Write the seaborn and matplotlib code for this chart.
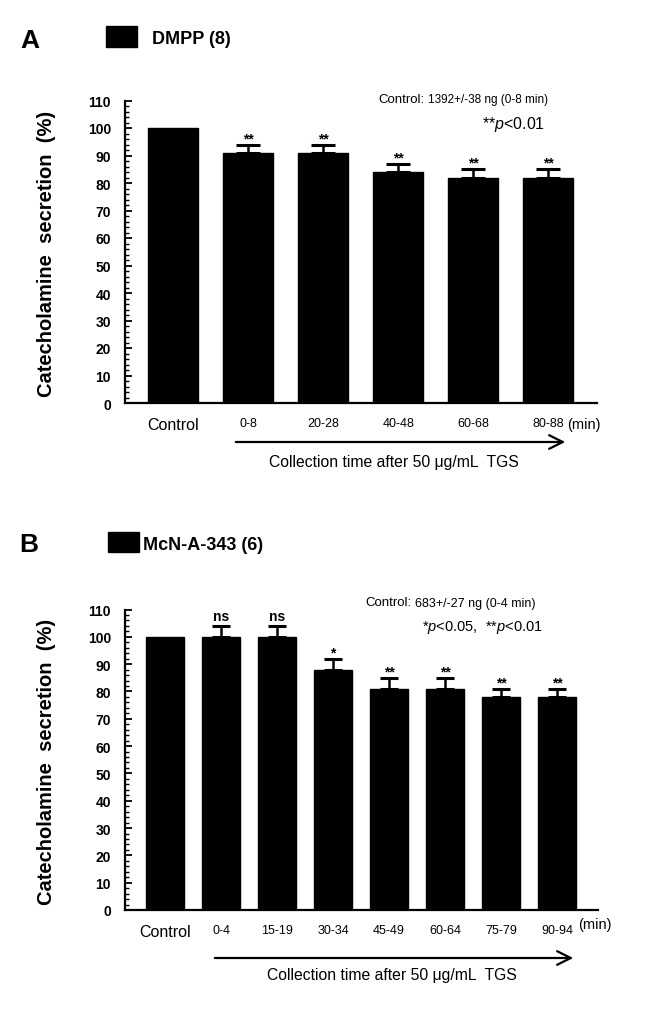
import matplotlib
matplotlib.use("Agg")
import matplotlib.pyplot as plt
from matplotlib.ticker import MultipleLocator
import seaborn as sns
import numpy as np
import pandas as pd

# ---- data ----
cats_A = ["Control", "0-8", "20-28", "40-48", "60-68", "80-88"]
vals_A = [100, 91, 91, 84, 82, 82]
err_A = [0, 3, 3, 3, 3, 3]
sig_A = ["", "**", "**", "**", "**", "**"]

cats_B = ["Control", "0-4", "15-19", "30-34", "45-49", "60-64", "75-79", "90-94"]
vals_B = [100, 100, 100, 88, 81, 81, 78, 78]
err_B = [0, 4, 4, 4, 4, 4, 3, 3]
sig_B = ["", "ns", "ns", "*", "**", "**", "**", "**"]

yticks = [0, 10, 20, 30, 40, 50, 60, 70, 80, 90, 100, 110]

sns.set_theme(style="ticks")
plt.rcParams["font.family"] = ["Liberation Sans", "DejaVu Sans"]
plt.rcParams["mathtext.fontset"] = "custom"
plt.rcParams["mathtext.rm"] = "Liberation Sans"
plt.rcParams["mathtext.it"] = "Liberation Sans:italic"
for k in ("text.color", "axes.labelcolor", "xtick.color", "ytick.color", "axes.edgecolor"):
    plt.rcParams[k] = "black"

W, H = 658, 1012
fig = plt.figure(figsize=(W / 100, H / 100), dpi=100)


def fx(x):
    return x / W


def fy(y):
    return 1 - y / H


def panel(rect, cats, vals, errs, sigs, width, capsize):
    ax = fig.add_axes(rect)
    df = pd.DataFrame({"cat": cats, "val": vals})
    sns.barplot(data=df, x="cat", y="val", order=cats, color="black",
                saturation=1, width=width, ax=ax, edgecolor="black")
    xs = np.arange(len(cats))
    e = np.array(errs, dtype=float)
    m = e > 0
    ax.errorbar(xs[m], np.array(vals)[m], yerr=[np.zeros(m.sum()), e[m]],
                fmt="none", ecolor="black", elinewidth=1.8, capsize=capsize,
                capthick=2.2)
    for i, (v, er, s) in enumerate(zip(vals, errs, sigs)):
        if s:
            if "*" in s:
                ax.text(i, v + er + 2.3, s, ha="center", va="center",
                        fontsize=10, fontweight="bold")
            else:
                ax.text(i, v + er + 0.9, s, ha="center", va="bottom",
                        fontsize=10, fontweight="bold")
    ax.set_ylim(0, 110)
    ax.set_yticks(yticks)
    ax.yaxis.set_minor_locator(MultipleLocator(2))
    ax.tick_params(axis="y", which="major", direction="in", length=5, width=1.3,
                   pad=10, labelsize=10)
    ax.tick_params(axis="y", which="minor", direction="in", length=3, width=1.0)
    for lab in ax.get_yticklabels():
        lab.set_fontweight("bold")
    ax.tick_params(axis="x", length=0, pad=10, labelsize=9)
    for lab in ax.get_xticklabels():
        if lab.get_text() == "Control":
            lab.set_fontsize(11.5)
    ax.set_xlabel("")
    ax.set_ylabel("")
    sns.despine(ax=ax)
    for sp in ("left", "bottom"):
        ax.spines[sp].set_linewidth(1.6)
        ax.spines[sp].set_color("black")
    ax.set_facecolor("white")
    return ax


# ---- Panel A ----
axA = panel([fx(125), fy(404), fx(597) - fx(125), fy(101.5) - fy(404)],
            cats_A, vals_A, err_A, sig_A, 0.667, 8.6)
axA.set_xlim(-0.64, 5.65)

# ---- Panel B ----
axB = panel([fx(125), fy(911), fx(598) - fx(125), fy(610.5) - fy(911)],
            cats_B, vals_B, err_B, sig_B, 0.68, 6.8)
axB.set_xlim(-0.714, 7.73)

# y labels
for yc in (254, 762):
    fig.text(fx(47), fy(yc), "Catecholamine  secretion  (%)", rotation=90,
             ha="center", va="center", fontsize=14.5, fontweight="bold")

# panel letters & legends
fig.text(fx(20), fy(41), "A", fontsize=19, fontweight="bold", ha="left", va="center")
fig.text(fx(19), fy(545), "B", fontsize=19, fontweight="bold", ha="left", va="center")
fig.patches.append(plt.Rectangle((fx(106), fy(48)), fx(31), fy(27) - fy(48),
                                 transform=fig.transFigure, color="black"))
fig.text(fx(152), fy(40), "DMPP (8)", fontsize=13, fontweight="bold", ha="left", va="center")
fig.patches.append(plt.Rectangle((fx(108), fy(553)), fx(31), fy(533) - fy(553),
                                 transform=fig.transFigure, color="black"))
fig.text(fx(143), fy(545), "McN-A-343 (6)", fontsize=13, fontweight="bold", ha="left", va="center")

# control info / p values
fig.text(fx(378), fy(100), "Control:", fontsize=9.5, ha="left", va="center")
fig.text(fx(428), fy(100.5), "1392+/-38 ng (0-8 min)", fontsize=8.5, ha="left", va="center")
fig.text(fx(482), fy(125), r"**$p$<0.01", fontsize=11.5, ha="left", va="center")

fig.text(fx(365), fy(603), "Control:", fontsize=9.5, ha="left", va="center")
fig.text(fx(415), fy(603.5), "683+/-27 ng (0-4 min)", fontsize=9, ha="left", va="center")
fig.text(fx(422), fy(628), r"*$p$<0.05,  **$p$<0.01", fontsize=10.5, ha="left", va="center")

# (min)
fig.text(fx(567), fy(425), "(min)", fontsize=10.5, ha="left", va="center")
fig.text(fx(578), fy(925), "(min)", fontsize=10.5, ha="left", va="center")

# arrows and x titles
for (x0, x1, ya, xt, yt) in [(233, 568, 443, 394, 463), (212, 576, 959, 392, 976)]:
    fig.add_artist(matplotlib.patches.FancyArrowPatch(
        (fx(x0), fy(ya)), (fx(x1), fy(ya)), transform=fig.transFigure,
        arrowstyle="->,head_length=0.7,head_width=0.35", mutation_scale=14,
        color="black", linewidth=1.6))
    fig.text(fx(xt), fy(yt), "Collection time after 50 \u03bcg/mL  TGS",
             fontsize=11.3, ha="center", va="center")

fig.savefig("out.png", dpi=100, facecolor="white")
